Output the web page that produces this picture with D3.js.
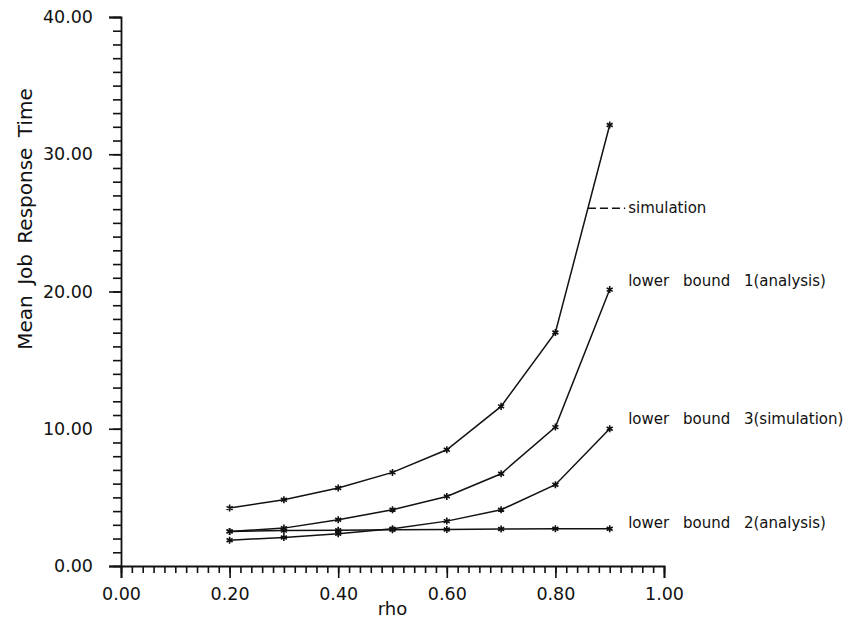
<!DOCTYPE html>
<html>
<head>
<meta charset="utf-8">
<script src="https://cdn.jsdelivr.net/npm/d3@7"></script>
<style>
  body { margin: 0; background: #fff; }
  svg text { font-family: "DejaVu Sans", sans-serif; fill: #111; }
</style>
</head>
<body>
<div id="chart"></div>
<script>
// Data
const rho = [0.2, 0.3, 0.4, 0.5, 0.6, 0.7, 0.8, 0.9];
const simulation = [4.22, 4.83, 5.68, 6.82, 8.47, 11.63, 17.01, 32.13];
const lowerBound1 = [2.52, 2.76, 3.37, 4.10, 5.07, 6.72, 10.12, 20.14];
const lowerBound3 = [1.88, 2.08, 2.35, 2.71, 3.27, 4.10, 5.92, 10.0];
const lowerBound2 = [2.52, 2.58, 2.60, 2.64, 2.66, 2.70, 2.71, 2.71];

const seriesList = [simulation, lowerBound1, lowerBound3, lowerBound2];
const labelNames = ['simulation', 'lower bound 1(analysis)', 'lower bound 3(simulation)', 'lower bound 2(analysis)'];
const labelValues = [26.07, 20.75, 10.76, 3.17];
const labelRho = 0.934;

const xMajor = [0, 0.2, 0.4, 0.6, 0.8, 1.0];
const yMajor = [0, 10, 20, 30, 40];

// Layout
const W = 854, H = 627;
const margin = {left: 121, right: 190, top: 17, bottom: 61};

const svg = d3.select('#chart').append('svg')
    .attr('width', W)
    .attr('height', H);

const x = d3.scaleLinear().domain([0, 1]).range([margin.left, W - margin.right]);
const y = d3.scaleLinear().domain([0, 40]).range([H - margin.bottom, margin.top]);

// x axis: minor ticks every 0.02, majors every 0.2
svg.append('g')
    .attr('transform', `translate(0, ${y(0)})`)
    .call(d3.axisBottom(x).tickValues(d3.range(0, 1.001, 0.02)).tickSize(7).tickFormat(''))
    .call(g => g.select('.domain').remove());
svg.append('g')
    .attr('transform', `translate(0, ${y(0)})`)
    .call(d3.axisBottom(x).tickValues(xMajor).tickSize(12).tickPadding(10).tickFormat(d3.format('.2f')))
    .call(g => g.selectAll('text').style('font-size', '17.5px'));

// y axis: minor ticks every 1, majors every 10
svg.append('g')
    .attr('transform', `translate(${x(0)}, 0)`)
    .call(d3.axisLeft(y).tickValues(d3.range(0, 40.1, 1)).tickSize(8).tickFormat(''))
    .call(g => g.select('.domain').remove());
svg.append('g')
    .attr('transform', `translate(${x(0)}, 0)`)
    .call(d3.axisLeft(y).tickValues(yMajor).tickSize(12).tickPadding(16).tickFormat(d3.format('.2f')))
    .call(g => g.selectAll('text').style('font-size', '17.5px'));

svg.selectAll('.domain, .tick line').attr('stroke', '#111').attr('stroke-width', 1.6);
svg.selectAll('.domain').attr('stroke-width', 1.8);

// Axis titles
svg.append('text')
    .attr('x', x(0.5))
    .attr('y', 615)
    .attr('text-anchor', 'middle')
    .style('font-size', '18px')
    .text('rho');

svg.append('text')
    .attr('transform', `translate(32, 219) rotate(-90)`)
    .attr('text-anchor', 'middle')
    .style('font-size', '20px')
    .style('word-spacing', '4px')
    .text('Mean Job Response Time');

// Lines and markers
const line = d3.line()
    .x((d, i) => x(rho[i]))
    .y(d => y(d));

const asterisk = d3.symbol().type(d3.symbolAsterisk).size(34);

seriesList.forEach(values => {
    svg.append('path')
        .datum(values)
        .attr('d', line)
        .attr('fill', 'none')
        .attr('stroke', '#111')
        .attr('stroke-width', 1.5);

    svg.selectAll(null)
        .data(values)
        .enter()
        .append('path')
        .attr('d', asterisk)
        .attr('transform', (d, i) => `translate(${x(rho[i])}, ${y(d)})`)
        .attr('fill', 'none')
        .attr('stroke', '#111')
        .attr('stroke-width', 1.6);
});

// Leader for "simulation": from the curve to the label
const v = labelValues[0];
let leadX = x(rho[rho.length - 1]);
for (let i = 0; i < rho.length - 1; i++) {
    if (simulation[i] <= v && simulation[i + 1] >= v) {
        const t = (v - simulation[i]) / (simulation[i + 1] - simulation[i]);
        leadX = x(rho[i] + t * (rho[i + 1] - rho[i]));
    }
}
svg.append('line')
    .attr('x1', leadX)
    .attr('x2', x(labelRho) - 3)
    .attr('y1', y(v))
    .attr('y2', y(v))
    .attr('stroke', '#111')
    .attr('stroke-width', 1.5)
    .attr('stroke-dasharray', '8,4');

// Series labels
svg.selectAll('.seriesLabel')
    .data(labelNames)
    .enter()
    .append('text')
    .attr('class', 'seriesLabel')
    .attr('x', x(labelRho))
    .attr('y', (d, i) => y(labelValues[i]))
    .attr('dy', '0.35em')
    .style('font-size', '15px')
    .style('word-spacing', '9px')
    .text(d => d);
</script>
</body>
</html>
